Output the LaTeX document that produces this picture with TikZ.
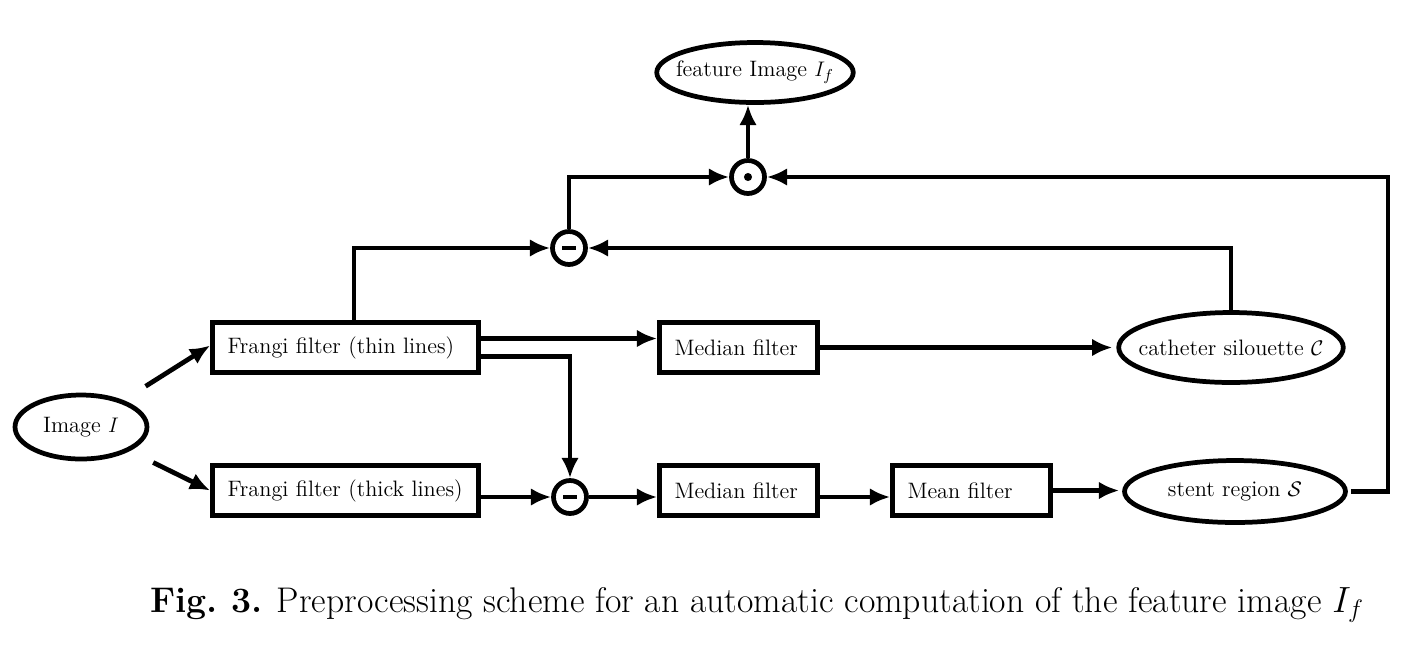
\documentclass[tikz,border=0pt]{standalone}
\usepackage{amsmath}
\usetikzlibrary{arrows.meta,shapes.geometric}

\begin{document}
\begin{tikzpicture}[x=0.02cm, y=-0.02cm, line width=2.7pt,
  arr/.style={-{Latex[length=11.5pt,width=10pt]}},
  txt/.style={font=\fontsize{12.7}{15}\selectfont},
  oval/.style={txt, draw, ellipse, inner sep=0pt},
  filterbox/.style={txt, draw, rectangle, minimum height=1cm, inner xsep=0.3cm, align=left},
  opnode/.style={draw, circle, minimum size=0.66cm, inner sep=0pt}]
  \useasboundingbox (0,0) rectangle (1411,654);

  % inputs and outputs
  \node[oval, minimum width=2.64cm, minimum height=1.28cm] (img) at (81,427) {Image $I$};
  \node[oval, inner xsep=-0.26cm, minimum width=4.26cm, minimum height=1.4cm] (cath) at (1231,347.5) {catheter silouette $\mathcal{C}$};
  \node[oval, minimum width=4.42cm, minimum height=1.24cm] (stent) at (1235,491.5) {stent region $\mathcal{S}$};
  \node[oval, inner xsep=-0.19cm, minimum width=3.82cm, minimum height=1.2cm] (feat) at (755,72.5) {feature Image $I_f$};

  % filters
  \node[filterbox, text width=4.72cm] (thin) at (345.5,347.5) {Frangi filter (thin lines)};
  \node[filterbox, text width=4.72cm] (thick) at (345.5,490.5) {Frangi filter (thick lines)};
  \node[filterbox, text width=2.56cm] (medA) at (738.5,347.5) {Median filter};
  \node[filterbox, text width=2.56cm] (medB) at (738.5,490.5) {Median filter};
  \node[filterbox, text width=2.56cm] (mean) at (971.5,490.5) {Mean filter};

  % operators
  \node[opnode, path picture={\draw[line width=2.8pt] ([xshift=-0.14cm]path picture bounding box.center) -- ([xshift=0.14cm]path picture bounding box.center);}] (subA) at (569,248) {};
  \node[opnode, path picture={\draw[line width=2.8pt] ([xshift=-0.14cm]path picture bounding box.center) -- ([xshift=0.14cm]path picture bounding box.center);}] (subB) at (570,497) {};
  \node[opnode, path picture={\fill (path picture bounding box.center) circle (2.3pt);}] (dot) at (748,177) {};
  \coordinate (rt) at (1388,177);

  % connectors
  \draw[arr, shorten <=0.52cm] (img) -- ([yshift=0.04cm]thin.west);
  \draw[arr, shorten <=0.52cm] (img) -- (thick.west);
  \draw[arr] ([yshift=0.18cm]thin.east) -- ([yshift=0.18cm]medA.west);
  \draw[arr] ([yshift=-0.18cm]thin.east) -| (subB.north);
  \draw[arr] (thick.east |- subB) -- (subB.west);
  \draw[arr] (subB.east) -- (subB -| medB.west);
  \draw[arr] (medB.east |- subB) -- (subB -| mean.west);
  \draw[arr, shorten >=0.06cm] (mean.east) -- (mean.east -| stent.west);
  \draw[arr, shorten >=0.08cm] (medA.east) -- (cath.west);
  \draw[arr] ([xshift=0.17cm]thin.north) |- (subA.west);
  \draw[arr] (cath.north) |- (subA.east);
  \draw[arr] (subA.north) |- (dot.west);
  \draw[arr, shorten <=0.06cm] (stent.east) -| (rt) -- (dot.east);
  \draw[arr] (dot.north) -- (dot.north |- feat.south);

  % caption
  \node[anchor=base west, inner sep=0pt, font=\fontsize{20.3}{24}\selectfont] (cap) at (148,612)
    {\textbf{Fig.\ 3.} Preprocessing scheme for an automatic computation of the feature image $I_f$};
\end{tikzpicture}
\end{document}
